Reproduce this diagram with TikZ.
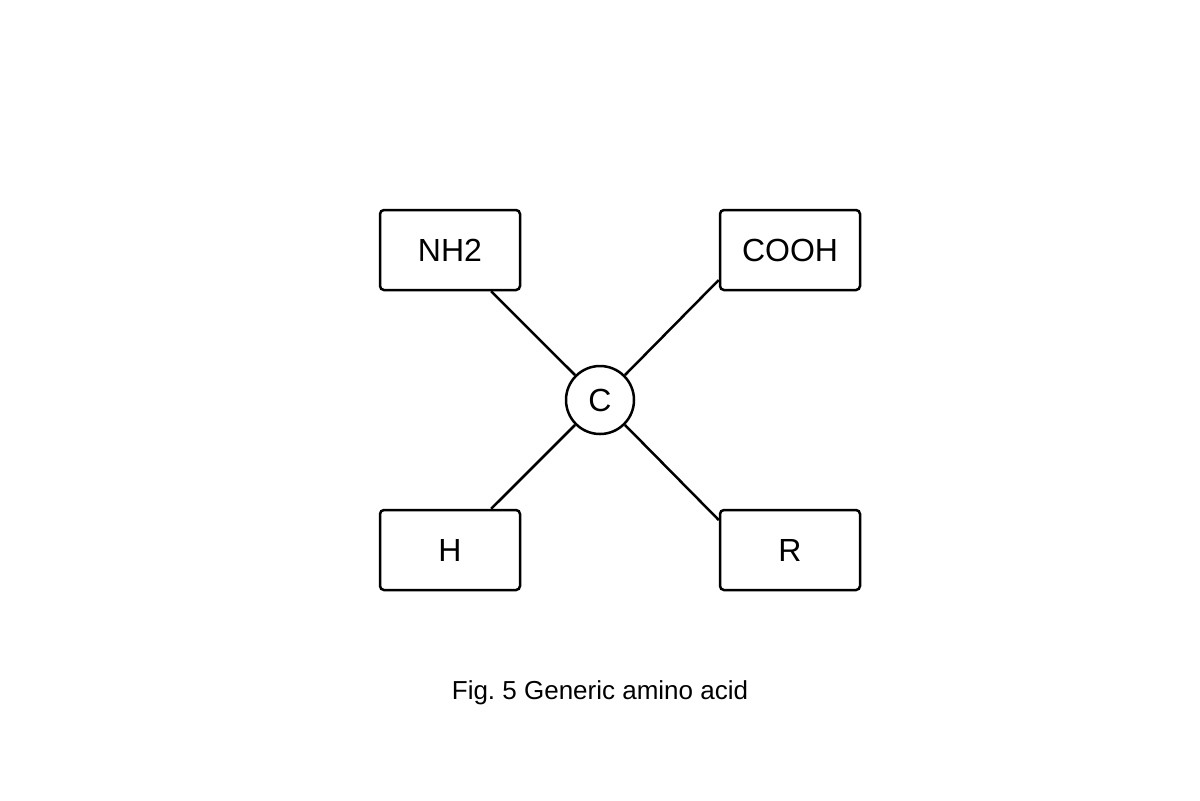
\documentclass[tikz,border=0pt]{standalone}
\usepackage{fontspec}
\setmainfont{Liberation Sans}
\begin{document}
\begin{tikzpicture}[x=0.5pt,y=-0.5pt,
  group/.style={draw,line width=1.25pt,rounded corners=2pt,minimum width=70pt,minimum height=40pt,font=\fontsize{16}{19}\selectfont},
  atom/.style={draw,circle,line width=1.25pt,minimum size=34pt,inner sep=0pt,font=\fontsize{16}{19}\selectfont},
  bond/.style={line width=1.25pt}]
  \useasboundingbox (0,0) rectangle (1200,800);
  \node[atom] (c) at (600,400) {C};
  \node[group] (nh2) at (450,250) {NH2};
  \node[group] (cooh) at (790,250) {COOH};
  \node[group] (h) at (450,550) {H};
  \node[group] (r) at (790,550) {R};
  % bonds
  \draw[bond] (c) -- (nh2);
  \draw[bond] (c.45) -- ([yshift=-15pt]cooh.west);
  \draw[bond] (c) -- (h);
  \draw[bond] (c.-45) -- ([yshift=15pt]r.west);
  \node[font=\fontsize{13}{15}\selectfont] (caption) at (600,693) {Fig.\ 5 Generic amino acid};
\end{tikzpicture}
\end{document}
